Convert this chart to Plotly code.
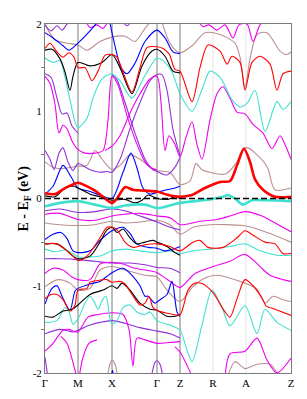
import plotly.graph_objects as go

# ---- path / axes ----
K_TICKS = [0, 33, 67, 112, 135, 168, 201, 246]
K_LABELS = ["Γ", "M", "X", "Γ", "Z", "R", "A", "Z"]
K_DARK = [33, 67, 112, 135]
K_LIGHT = [168, 201]
E_TICKS = [-2, -1, 0, 1, 2]
E_LABELS = ["-2", "-1", "0", "1", "2"]

# ---- bands (k, E in eV) ----
TAN_UP = [(0,1.99),(10,1.82),(22,1.78),(33,1.76),(42,1.70),(55,1.80),(67,1.85),(80,1.86),(90,1.80),(100,1.95),(108,2.06)]
TAN_UP2 = [(116,2.06),(125,1.78),(135,1.67),(147,1.75),(160,1.9),(175,1.88),(190,1.78),(195,1.62),(200,1.27),(205,1.6),(212,1.88),(222,1.9),(235,1.69),(242,1.65),(246,1.68)]
RED_UP = [(0,1.72),(5,1.78),(12,1.68),(18,1.62),(24,1.67),(29,1.62),(33,1.50),(40,1.50),(47,1.35),(53,1.46),(60,1.64),(67,1.65),(72,1.62),(77,1.48),(87,1.22),(95,1.5),(102,1.73),(112,1.74),(118,1.72),(124,1.66),(130,1.48),(135,1.46),(147,1.11),(155,1.5),(163,1.76),(175,1.69),(182,1.54),(187,1.63),(195,1.56),(200,1.24),(207,1.56),(215,1.63),(225,1.54),(232,1.24),(238,1.43),(246,1.46)]
BLACK_UP = [(0,1.70),(7,1.71),(15,1.6),(20,1.45),(25,1.24),(28,1.40),(33,1.56),(45,1.52),(57,1.56),(67,1.65),(75,1.5),(87,1.2),(97,1.52),(107,1.69),(112,1.71),(120,1.63),(128,1.46),(135,1.44)]
BLUE_UP = [(0,1.9),(8,1.84),(18,1.75),(24,1.70),(33,1.78),(45,1.92),(55,2.06)]
BLUE_UP2 = [(64,2.06),(70,1.75),(76,1.5),(82,1.43),(90,1.55),(100,1.8),(112,1.93),(120,1.84),(128,1.68),(135,1.66)]
CYAN_UP = [(0,1.61),(8,1.56),(15,1.58),(20,1.39),(25,1.13),(30,0.88),(33,0.81),(42,0.92),(48,1.15),(57,1.37),(67,1.43),(75,1.35),(87,1.15),(100,1.41),(112,1.61),(118,1.58),(127,1.45),(135,1.2),(147,1.0),(157,1.25),(165,1.46),(175,1.39),(187,1.13),(195,1.05),(202,1.09),(210,1.24),(220,0.77),(232,1.11),(238,1.02),(246,1.11)]
MAG_TOP_R = [(152,2.06),(158,1.97),(164,1.99),(172,1.93),(180,1.99),(188,1.84),(194,1.99),(202,2.0),(208,1.80),(215,1.99),(222,2.06)]
MAG_TOP_L = [(40,2.06),(45,1.96),(52,1.99),(58,1.95),(64,2.06)]
PURP_TOP = [(0,1.99),(6,1.92),(12,1.98),(17,1.93),(22,2.0),(26,2.06)]
PURP_TOP2 = [(76,2.06),(82,1.98),(88,2.06)]
PURP_GM1 = [(0,1.43),(6,1.39),(12,1.15),(17,0.97),(22,0.98),(27,0.83),(33,0.75)]
MAG_GM1 = [(0,1.40),(5,1.32),(10,1.08),(14,0.75),(18,0.84),(22,0.8),(27,0.66),(33,0.56),(40,0.52),(50,0.52),(58,0.55),(63,0.9),(67,1.40),(73,1.3),(82,0.95),(92,0.62),(100,0.42),(106,0.35),(112,0.33)]
PURP_GM2 = [(0,0.55),(5,0.45),(9,0.33),(14,0.52),(18,0.58),(23,0.42),(28,0.32),(33,0.40),(45,0.33),(55,0.3),(62,0.31),(67,0.30),(75,0.45),(85,0.8),(95,1.1),(105,1.35),(112,1.42),(117,1.42),(122,1.24),(128,0.79),(135,0.49)]
PURP_XG1 = [(67,1.42),(72,1.36),(80,1.1),(90,0.75),(100,0.45),(108,0.33),(112,0.31),(122,0.27),(130,0.36),(135,0.47)]
MAG_XG2 = [(60,0.55),(67,0.6),(75,0.72),(85,0.98),(95,1.2),(105,1.37),(112,1.40),(116,1.1),(120,0.55),(124,0.72),(130,0.62),(135,0.48),(141,0.7),(147,0.88),(152,0.62),(157,0.45),(165,0.9),(172,1.2),(178,1.28),(185,1.15),(192,0.99),(200,0.97),(208,0.85),(218,0.75),(227,0.57),(235,0.72),(240,0.62),(246,0.45)]
TAN_MID = [(0,0.42),(8,0.36),(15,0.34),(22,0.35),(33,0.37),(42,0.38),(50,0.55),(57,0.45),(67,0.33),(75,0.38),(85,0.5),(95,0.45),(103,0.38),(112,0.32),(125,0.3),(135,0.16),(145,0.2),(151,0.4),(157,0.33),(165,0.3),(180,0.28),(192,0.42),(198,0.57),(203,0.58),(218,0.43),(223,0.34),(230,0.1),(246,0.12)]
RED_F = [(0,0.06),(10,0.05),(20,0.12),(28,0.16),(33,0.18),(40,0.15),(50,0.09),(58,0.02),(67,-0.05),(72,0.0),(80,0.13),(88,0.1),(100,0.09),(112,0.08),(123,0.04),(135,0.02),(147,0.04),(160,0.12),(175,0.19),(185,0.2),(192,0.38),(199,0.57),(205,0.42),(210,0.22),(218,0.1),(230,0.02),(246,0.02)]
BLACK_F = [(0,0.03),(10,0.02),(20,0.12),(28,0.14),(33,0.12),(45,0.05),(55,0.02),(67,-0.02),(80,-0.01),(90,-0.05),(97,-0.02),(103,0.04),(112,0.0),(123,-0.01),(130,0.02),(135,0.0)]
BLUE_F = [(0,0.05),(8,0.14),(18,0.38),(26,0.25),(33,0.12),(45,0.08),(57,0.03),(67,0.0),(78,0.3),(86,0.52),(92,0.35),(98,0.12),(105,0.05),(112,0.07),(122,0.1),(130,0.12),(135,0.14)]
CYAN_F = [(0,-0.09),(15,-0.05),(33,-0.03),(50,-0.07),(67,-0.11),(80,-0.08),(100,-0.07),(112,-0.11),(125,-0.08),(135,-0.05),(150,-0.03),(165,-0.01),(178,0.02),(183,0.04),(190,0.0),(198,-0.07),(207,-0.02),(220,-0.02),(246,-0.03)]
PURP_C1 = [(0,-0.14),(15,-0.12),(33,-0.16),(50,-0.15),(67,-0.12),(80,-0.14),(95,-0.2),(112,-0.27),(125,-0.33),(135,-0.36)]
MAG_C1 = [(0,-0.18),(15,-0.17),(33,-0.24),(50,-0.25),(67,-0.2),(80,-0.18),(95,-0.17),(112,-0.2),(125,-0.22),(135,-0.3),(155,-0.26),(172,-0.24),(185,-0.2),(200,-0.15),(217,-0.2),(227,-0.26),(246,-0.38)]
TAN_C1 = [(0,-0.28),(15,-0.3),(33,-0.31),(50,-0.3),(67,-0.26),(80,-0.28),(95,-0.27),(112,-0.25),(125,-0.3),(135,-0.41),(148,-0.33),(165,-0.3),(198,-0.31),(210,-0.34),(227,-0.41),(246,-0.5)]
BLUE_C2 = [(0,-0.47),(8,-0.41),(16,-0.39),(22,-0.46),(28,-0.6),(33,-0.62),(45,-0.6),(55,-0.48),(67,-0.37),(78,-0.33),(85,-0.4),(92,-0.52),(103,-0.56),(112,-0.57),(120,-0.6),(128,-0.58),(135,-0.55)]
RED_C2 = [(0,-0.52),(12,-0.52),(22,-0.6),(28,-0.66),(33,-0.71),(42,-0.66),(55,-0.45),(62,-0.33),(67,-0.33),(72,-0.36),(80,-0.5),(88,-0.56),(100,-0.53),(112,-0.52),(125,-0.55),(135,-0.6),(148,-0.5),(155,-0.48),(163,-0.56),(178,-0.56),(192,-0.45),(200,-0.37),(208,-0.42),(220,-0.5),(230,-0.52),(238,-0.63),(246,-0.63)]
BLACK_C2 = [(0,-0.52),(12,-0.52),(20,-0.58),(27,-0.65),(33,-0.69),(45,-0.66),(55,-0.5),(62,-0.36),(67,-0.33),(72,-0.39),(78,-0.35),(85,-0.45),(92,-0.52),(100,-0.5),(108,-0.48),(112,-0.5),(122,-0.55),(130,-0.62),(135,-0.65)]
CYAN_C2 = [(0,-0.58),(10,-0.61),(20,-0.59),(28,-0.63),(33,-0.67),(45,-0.67),(55,-0.66),(67,-0.6),(80,-0.58),(95,-0.6),(112,-0.62),(125,-0.6),(135,-0.63),(148,-0.6),(165,-0.58),(185,-0.55),(200,-0.52),(215,-0.6),(232,-0.65),(246,-0.65)]
PURP_C2 = [(0,-0.69),(15,-0.69),(33,-0.7),(50,-0.72),(67,-0.74),(85,-0.74),(100,-0.76),(112,-0.79),(125,-0.8),(135,-0.85)]
MAG_C3 = [(0,-0.86),(8,-0.8),(18,-0.82),(27,-0.9),(33,-0.93),(45,-0.93),(55,-0.75),(67,-0.73),(78,-0.75),(90,-0.8),(100,-0.82),(112,-0.85),(125,-0.95),(135,-1.02),(150,-0.86),(168,-0.78),(185,-0.72),(200,-0.64),(215,-0.78),(225,-0.88),(238,-0.93),(246,-0.95)]
TAN_C3 = [(0,-1.01),(13,-0.93),(25,-0.97),(33,-1.05),(45,-1.03),(55,-0.82),(67,-0.78),(80,-0.82),(90,-0.85),(100,-0.88),(112,-0.9),(122,-1.05),(135,-1.18),(148,-1.01),(160,-0.91),(172,-0.88),(200,-0.97),(212,-1.04),(220,-1.2),(228,-1.12),(238,-1.16),(246,-1.18)]
RED_C3 = [(0,-1.15),(6,-1.1),(12,-1.1),(18,-1.16),(25,-1.29),(30,-1.22),(33,-1.05),(42,-1.03),(45,-0.96),(53,-0.94),(62,-0.93),(67,-0.96),(75,-0.95),(80,-0.98),(87,-1.1),(95,-1.22),(100,-1.2),(104,-1.12),(108,-1.25),(112,-1.28),(125,-1.32),(135,-1.33),(143,-1.05),(150,-0.97),(158,-0.98),(168,-1.08),(180,-1.3),(185,-1.36),(192,-1.15),(200,-0.93),(208,-1.0),(218,-1.16),(221,-1.23),(230,-1.27),(246,-1.34)]
BLACK_C3 = [(0,-1.35),(8,-1.36),(18,-1.29),(27,-1.27),(33,-1.22),(45,-1.1),(58,-1.05),(67,-1.0),(72,-1.03),(77,-0.97),(85,-1.05),(95,-1.2),(105,-1.27),(112,-1.28),(122,-1.35),(130,-1.35),(135,-1.33)]
BLUE_C3 = [(0,-1.21),(7,-1.03),(12,-1.0),(17,-1.12),(25,-1.28),(30,-1.06),(33,-1.03),(45,-0.98),(55,-0.95),(67,-0.85),(78,-0.8),(87,-0.88),(95,-1.0),(100,-1.12),(103,-1.12),(110,-1.2),(115,-1.16),(122,-1.1),(127,-0.95),(132,-1.3),(135,-1.35)]
CYAN_C3 = [(0,-1.42),(12,-1.4),(20,-1.25),(24,-1.3),(28,-1.44),(33,-1.38),(40,-1.2),(45,-1.12),(50,-1.2),(53,-1.27),(58,-1.15),(61,-1.12),(65,-1.38),(67,-1.44),(72,-1.4),(78,-1.25),(85,-1.22),(92,-1.3),(100,-1.33),(105,-1.3),(112,-1.4),(125,-1.45),(135,-1.51),(141,-1.7),(147,-1.87),(157,-1.45),(167,-1.05),(177,-1.25),(185,-1.46),(200,-1.23),(212,-1.55),(220,-1.27),(232,-1.42),(246,-1.51)]
PURP_C3 = [(0,-1.55),(15,-1.5),(28,-1.53),(33,-1.51),(45,-1.45),(55,-1.42),(67,-1.4),(80,-1.43),(95,-1.48),(112,-1.52),(125,-1.55),(135,-1.6)]
MAG_C4 = [(0,-1.75),(8,-1.66),(18,-1.51),(24,-1.5),(28,-1.52),(33,-1.53),(43,-1.36),(53,-1.33),(67,-1.31),(78,-1.33),(84,-1.5),(88,-1.92),(92,-1.6),(100,-1.62),(112,-1.66),(125,-1.65),(135,-1.64)]
MAG_MV1 = [(16,-1.58),(22,-1.66),(28,-1.88),(32,-2.06)]
MAG_MV2 = [(34,-2.06),(38,-1.82),(44,-1.66),(52,-1.62)]
TAN_ARCH_X = [(62,-2.06),(65,-1.9),(67,-1.85),(70,-1.9),(73,-2.06)]
BLUE_ARCH_X = [(66,-2.06),(67.5,-1.97),(69,-2.06)]
PURP_ARCH_G = [(106,-2.06),(110,-1.88),(112,-1.86),(115,-1.9),(118,-2.06)]
PURP_G0 = [(0,-1.82),(3,-2.06)]
MAG_Z_LOW = [(130,-1.7),(135,-1.76),(148,-2.06)]
MAG_LOW_R = [(180,-2.06),(185,-1.78),(200,-1.75),(212,-1.6),(222,-1.85),(232,-2.0),(246,-1.83)]
TAN_LOW_R = [(182,-2.06),(190,-1.87),(200,-1.95),(212,-1.9),(225,-1.9),(235,-2.06)]

RED = "#ff0000"
BLACK = "#000000"
BLUE = "#0000ff"
CYAN = "#40e0d0"
MAGENTA = "#f000f0"
PURPLE = "#9030d8"
TAN = "#bc8f8f"

THIN = 1.1
BANDS = [
    (TAN_UP, TAN), (TAN_UP2, TAN), (TAN_MID, TAN), (TAN_C1, TAN), (TAN_C3, TAN),
    (TAN_ARCH_X, TAN), (TAN_LOW_R, TAN),
    (PURP_TOP, PURPLE), (PURP_TOP2, PURPLE), (PURP_GM1, PURPLE), (PURP_GM2, PURPLE),
    (PURP_XG1, PURPLE), (PURP_C1, PURPLE), (PURP_C2, PURPLE), (PURP_C3, PURPLE),
    (PURP_ARCH_G, PURPLE), (PURP_G0, PURPLE),
    (MAG_TOP_R, MAGENTA), (MAG_TOP_L, MAGENTA), (MAG_GM1, MAGENTA), (MAG_XG2, MAGENTA),
    (MAG_C1, MAGENTA), (MAG_C3, MAGENTA), (MAG_C4, MAGENTA), (MAG_MV1, MAGENTA),
    (MAG_MV2, MAGENTA), (MAG_Z_LOW, MAGENTA), (MAG_LOW_R, MAGENTA),
    (CYAN_UP, CYAN), (CYAN_C2, CYAN), (CYAN_C3, CYAN),
    (BLUE_UP, BLUE), (BLUE_UP2, BLUE), (BLUE_F, BLUE), (BLUE_C2, BLUE), (BLUE_C3, BLUE),
    (BLUE_ARCH_X, BLUE),
    (BLACK_UP, BLACK), (BLACK_F, BLACK), (BLACK_C2, BLACK), (BLACK_C3, BLACK),
    (RED_UP, RED), (RED_C2, RED), (RED_C3, RED),
]
THICK = [(CYAN_F, CYAN, 2.6), (RED_F, RED, 2.6)]

fig = go.Figure()

def add_band(pts, color, width):
    fig.add_trace(go.Scatter(
        x=[p[0] for p in pts], y=[p[1] for p in pts], mode="lines",
        line=dict(color=color, width=width, shape="spline", smoothing=0.8),
        hoverinfo="skip", showlegend=False))

for pts, col in BANDS:
    add_band(pts, col, THIN)
for pts, col, w in THICK:
    add_band(pts, col, w)

shapes = []
for k in K_DARK:
    shapes.append(dict(type="line", xref="x", yref="paper", x0=k, x1=k, y0=0, y1=1,
                       line=dict(color="#7a7a7a", width=1), layer="below"))
for k in K_LIGHT:
    shapes.append(dict(type="line", xref="x", yref="paper", x0=k, x1=k, y0=0, y1=1,
                       line=dict(color="#e4e4e4", width=1), layer="below"))
shapes.append(dict(type="line", xref="x", yref="y", x0=K_TICKS[0], x1=K_TICKS[-1], y0=0, y1=0,
                   line=dict(color="black", width=1.6, dash="6px,3px"), layer="above"))

# page body has an 8px default margin: figure is sized/offset to compensate
fig.update_layout(
    width=299, height=391,
    margin=dict(l=37, r=16, t=10, b=24),
    paper_bgcolor="white", plot_bgcolor="white",
    font=dict(family="Liberation Serif, Times New Roman, serif", size=11, color="black"),
    shapes=shapes,
    xaxis=dict(range=[K_TICKS[0], K_TICKS[-1]], tickvals=K_TICKS, ticktext=K_LABELS,
               showgrid=False, zeroline=False, showline=True, mirror=True,
               linecolor="#7a7a7a", linewidth=1, ticks="", tickfont=dict(size=11)),
    yaxis=dict(range=[-2, 2], tickvals=E_TICKS, ticktext=E_LABELS,
               showgrid=False, zeroline=False, showline=True, mirror=True,
               linecolor="#7a7a7a", linewidth=1, ticks="", ticklen=0,
               tickfont=dict(size=11),
               minor=dict(tickvals=[-1.5, -0.5, 0.5, 1.5], ticks="outside", ticklen=3,
                          tickcolor="#7a7a7a")),
    annotations=[dict(text="<b>E - E<sub>F</sub> (eV)</b>", xref="paper", yref="paper",
                      x=-0.085, y=0.5, xanchor="center", yanchor="middle",
                      textangle=-90, showarrow=False,
                      font=dict(size=14, family="Liberation Serif, serif", color="black"))],
)

fig.write_html("out.html")
